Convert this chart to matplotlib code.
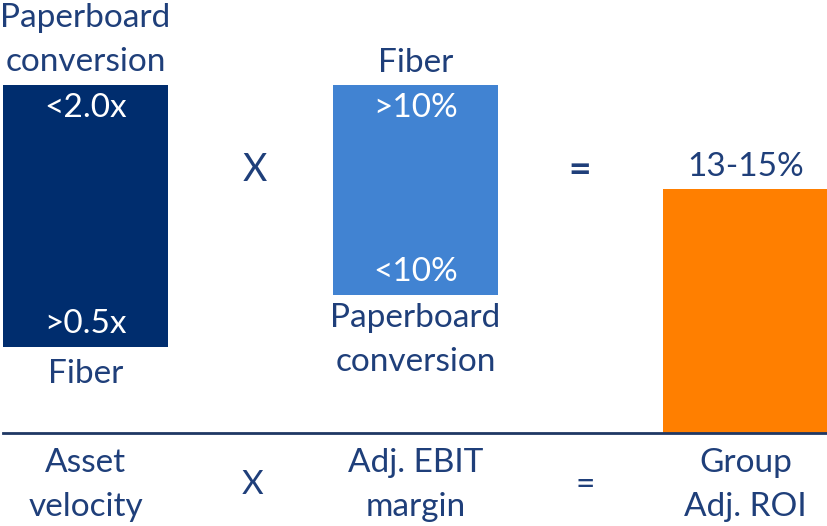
import matplotlib.pyplot as plt

# bar geometry (x in diagram units, y measured up from the baseline)
bar_names = ["Asset velocity", "Adj. EBIT margin", "Group Adj. ROI"]
bar_left = [3, 333, 663]
bar_width = [165, 165, 165]
bar_bottom = [86, 138, 0]
bar_top = [348, 348, 244]
bar_colors = ["#002D6E", "#4183D2", "#FF7F00"]

top_inside = ["<2.0x", ">10%", ""]
bottom_inside = [">0.5x", "<10%", ""]
above_labels = ["Paperboard\nconversion", "Fiber", "13-15%"]
below_labels = ["Fiber", "Paperboard\nconversion", ""]
axis_labels = ["Asset\nvelocity", "Adj. EBIT\nmargin", "Group\nAdj. ROI"]
operators = ["X", "="]
operator_x = [255, 580]
operator_x_bottom = [252, 585]

navy = "#1F3F7A"
plt.rcParams['font.family'] = ['Lato', 'DejaVu Sans']

fig = plt.figure(figsize=(8.28, 5.26), dpi=100)
ax = fig.add_axes([0, 0, 1, 1])
ax.set_xlim(0, 828)
ax.set_ylim(-93, 433)
ax.axis('off')

heights = [t - b for t, b in zip(bar_top, bar_bottom)]
ax.bar(bar_left, heights, width=bar_width, bottom=bar_bottom,
       align='edge', color=bar_colors, zorder=2)
ax.plot([3, 828], [0, 0], color="#1F3864", lw=2, zorder=3)

fs = 24
ls = 1.62
kw = dict(fontsize=fs, ha='center', va='center', linespacing=ls)
for i in range(3):
    cx = bar_left[i] + bar_width[i] / 2
    if top_inside[i]:
        ax.text(cx, bar_top[i] - 23, top_inside[i], color='white', **kw)
    if bottom_inside[i]:
        ax.text(cx, bar_bottom[i] + 23, bottom_inside[i], color='white', **kw)
    n = above_labels[i].count("\n")
    ax.text(cx, bar_top[i] + 22 + n * 23, above_labels[i], color=navy, **kw)
    if below_labels[i]:
        n = below_labels[i].count("\n")
        ax.text(cx, bar_bottom[i] - 27 - n * 18, below_labels[i], color=navy, **kw)
    ax.text(cx, -52, axis_labels[i], color=navy, **kw)

ax.text(operator_x[0], 263, operators[0], color=navy, fontsize=27,
        ha='center', va='center')
ax.text(operator_x[1], 263, operators[1], color=navy, fontsize=28,
        fontweight='bold', ha='center', va='center')
for op, x in zip(operators, operator_x_bottom):
    ax.text(x, -52, op, color=navy, fontsize=24, ha='center', va='center')

fig.savefig("out.png", dpi=100)
